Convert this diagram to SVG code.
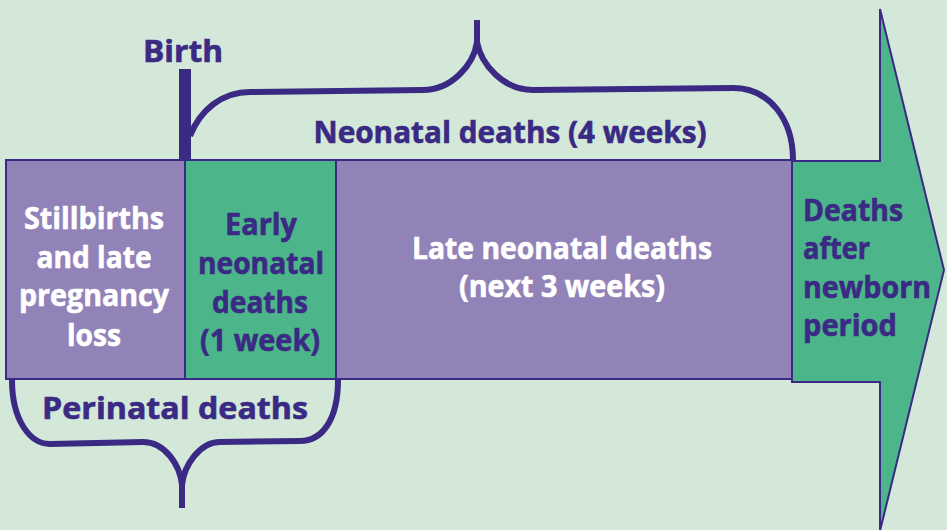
<svg xmlns="http://www.w3.org/2000/svg" width="947" height="530" viewBox="0 0 947 530">
<style>
.bg{fill:#d3e8d9}
.pur{fill:#9182b8;stroke:#3a2a84;stroke-width:2}
.grn{fill:#4db58a;stroke:#3a2a84;stroke-width:2}
.brace{fill:none;stroke:#3a2a84;stroke-width:6;stroke-linecap:butt;stroke-linejoin:round}
text{font-family:"Open Sans","Liberation Sans",sans-serif;font-weight:bold;font-size:30px}
.w{fill:#ffffff;stroke:#ffffff;stroke-width:0.6}
.d{fill:#3a2a84;stroke:#3a2a84;stroke-width:0.6}
</style>
<rect class="bg" x="0" y="0" width="947" height="530"/>
<g id="arrow">
<polygon class="grn" points="792,161 880,161 880,9 944,270 880,531 880,382 792,382"/>
<text class="d" x="803" y="221" textLength="100" lengthAdjust="spacingAndGlyphs">Deaths</text>
<text class="d" x="803" y="259" textLength="67" lengthAdjust="spacingAndGlyphs">after</text>
<text class="d" x="803" y="298" textLength="128" lengthAdjust="spacingAndGlyphs">newborn</text>
<text class="d" x="803" y="336" textLength="94" lengthAdjust="spacingAndGlyphs">period</text>
</g>
<g id="stillbirths">
<rect class="pur" x="6" y="160" width="179" height="219"/>
<text class="w" text-anchor="middle" x="94" y="229" textLength="140" lengthAdjust="spacingAndGlyphs">Stillbirths</text>
<text class="w" text-anchor="middle" x="94" y="268" textLength="115" lengthAdjust="spacingAndGlyphs">and late</text>
<text class="w" text-anchor="middle" x="94" y="306" textLength="150" lengthAdjust="spacingAndGlyphs">pregnancy</text>
<text class="w" text-anchor="middle" x="94" y="346" textLength="54" lengthAdjust="spacingAndGlyphs">loss</text>
</g>
<g id="early">
<rect class="grn" x="185" y="160" width="151" height="219"/>
<text class="d" text-anchor="middle" x="261" y="235" textLength="72" lengthAdjust="spacingAndGlyphs">Early</text>
<text class="d" text-anchor="middle" x="261" y="274" textLength="126" lengthAdjust="spacingAndGlyphs">neonatal</text>
<text class="d" text-anchor="middle" x="260" y="313" textLength="96" lengthAdjust="spacingAndGlyphs">deaths</text>
<text class="d" text-anchor="middle" x="260" y="351" textLength="120" lengthAdjust="spacingAndGlyphs">(1 week)</text>
</g>
<g id="late">
<rect class="pur" x="336" y="160" width="456" height="219"/>
<text class="w" text-anchor="middle" x="562" y="259" textLength="300" lengthAdjust="spacingAndGlyphs">Late neonatal deaths</text>
<text class="w" text-anchor="middle" x="562" y="297" textLength="206" lengthAdjust="spacingAndGlyphs">(next 3 weeks)</text>
</g>
<g id="birth">
<rect x="179" y="69" width="12" height="92" fill="#3a2a84"/>
<text class="d" text-anchor="middle" x="183" y="62" textLength="80" lengthAdjust="spacingAndGlyphs">Birth</text>
</g>
<g id="connectors">
<path class="brace" d="M190,136 C200,110 222,92 250,92 L423,90 C452,90 474,64 477,42 L477,20 M477,42 C481,64 503,90 533,90 L733,88 C770,88 793,120 793,160"/>
<path class="brace" d="M12,380 C12,420 30,444 50,444 L143,442 C165,442 180,465 182,485 L182,508 M182,485 C184,465 200,442 220,442 L300,441 C322,441 338,420 338,380"/>
</g>
<g id="labels">
<text class="d" text-anchor="middle" x="510" y="143" textLength="393" lengthAdjust="spacingAndGlyphs">Neonatal deaths (4 weeks)</text>
<text class="d" text-anchor="middle" x="175" y="419" textLength="266" lengthAdjust="spacingAndGlyphs">Perinatal deaths</text>
</g>
</svg>
